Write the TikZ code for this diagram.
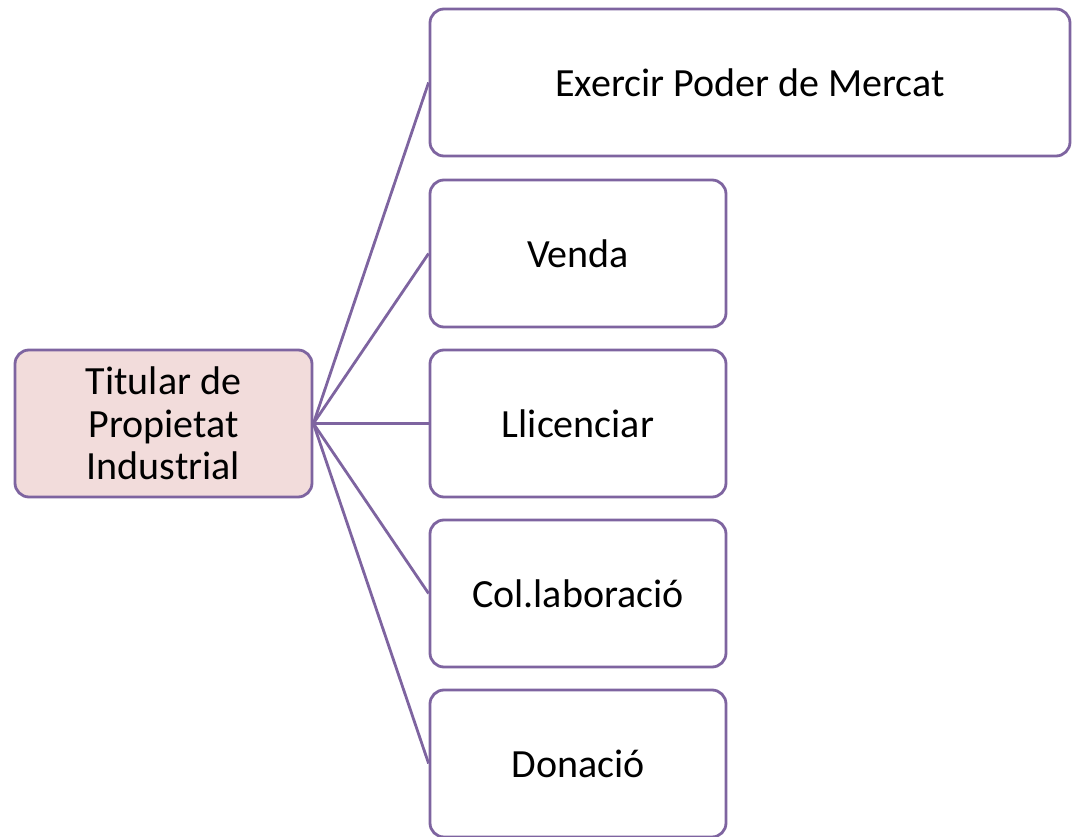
\documentclass[tikz,border=0pt]{standalone}
\usepackage{fontspec}
\setmainfont{Carlito}
\definecolor{bord}{HTML}{7E64A0}
\definecolor{pinkfill}{HTML}{F2DCDB}
\begin{document}
\begin{tikzpicture}[x=1pt,y=-1pt,
  box/.style={draw=bord, line width=2.8pt, rounded corners=14pt, fill=white, inner sep=0pt,
    font=\fontsize{40}{42.5}\selectfont, text=black, align=center},
  conn/.style={draw=bord, line width=2.8pt}]
\useasboundingbox (0,0) rectangle (1072,837);
\node[box, fill=pinkfill, minimum width=297pt, minimum height=147pt] (tit) at (163.5,423.5) {Titular de\\Propietat\\Industrial};
\node[box, minimum width=640pt, minimum height=147pt] (ex) at (750,82.5) {Exercir Poder de Mercat};
\node[box, minimum width=296pt, minimum height=147pt] (ve) at (578,253.5) {Venda};
\node[box, minimum width=296pt, minimum height=147pt] (ll) at (578,423.5) {Llicenciar};
\node[box, minimum width=296pt, minimum height=147pt] (co) at (578,593.5) {Col.laboració};
\node[box, minimum width=296pt, minimum height=147pt] (do) at (578,763.5) {Donació};
\foreach \t in {ex,ve,ll,co,do} \draw[conn] (tit.east) -- (\t.west);
\end{tikzpicture}
\end{document}
